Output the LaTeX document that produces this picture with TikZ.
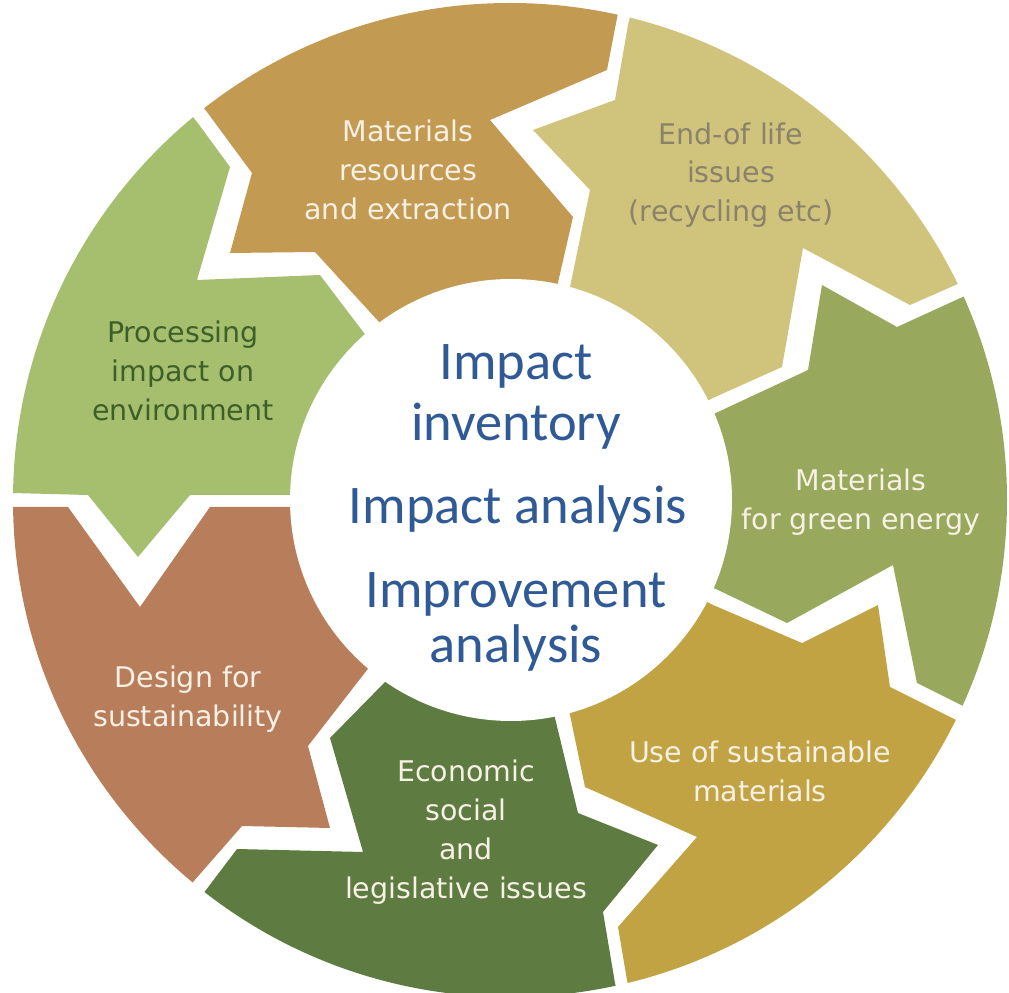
\documentclass[tikz,border=0pt]{standalone}
\usepackage{fontspec}
\setmainfont{DejaVu Sans}
\newfontfamily\hubfont{Carlito}
\usetikzlibrary{calc}

% segment fills
\definecolor{segBrown}{HTML}{C29A52}
\definecolor{segKhaki}{HTML}{D0C47C}
\definecolor{segOlive}{HTML}{98A85C}
\definecolor{segMustard}{HTML}{C1A344}
\definecolor{segForest}{HTML}{5E7C42}
\definecolor{segClay}{HTML}{B87D5B}
\definecolor{segLeaf}{HTML}{A5BF6F}
% text colours
\definecolor{hubBlue}{HTML}{2F5A95}
\definecolor{txtCream}{HTML}{F7F0E4}
\definecolor{txtGrey}{HTML}{8A826A}
\definecolor{txtDark}{HTML}{3E5F28}

\begin{document}
\begin{tikzpicture}[x=0.02cm,y=-0.02cm,
  lbl/.style={align=center, inner sep=0pt, text=txtCream,
    font=\fontsize{16.2}{22.1}\selectfont},
  hub/.style={anchor=base, inner sep=0pt, text=hubBlue,
    font=\hubfont\fontsize{31}{33}\selectfont}]
\useasboundingbox (0,0) rectangle (1009,993);
\coordinate (O) at (510,500);

\begin{scope}
  \clip (O) circle [radius=497];
  % materials resources and extraction
  \fill[segBrown] (O) -- (380,323) -- (315,252) -- (230,253) -- (252,173) -- (207,112)
    -- ($(O)!1.3!(207,112)$) -- (285,-474) -- ($(O)!1.3!(617,18)$)
    -- (617,18) -- (607,70) -- (490,120) -- (573,217) -- (557,287) -- cycle;
  % end-of-life issues
  \fill[segKhaki] (O) -- (570,287) -- (590,190) -- (533,130) -- (615,100) -- (628,25)
    -- ($(O)!1.3!(628,25)$) -- (1139,-277) -- ($(O)!1.3!(960,283)$)
    -- (960,283) -- (910,305) -- (803,248) -- (782,367) -- (713,398) -- cycle;
  % materials for green energy
  \fill[segOlive] (O) -- (718,412) -- (808,370) -- (822,285) -- (897,327) -- (967,295)
    -- ($(O)!1.3!(967,295)$) -- (1510,500) -- ($(O)!1.3!(967,708)$)
    -- (967,708) -- (917,683) -- (893,565) -- (787,623) -- (718,590) -- cycle;
  % use of sustainable materials
  \fill[segMustard] (O) -- (713,605) -- (802,643) -- (878,605) -- (890,687) -- (960,722)
    -- ($(O)!1.3!(960,722)$) -- (1139,1277) -- ($(O)!1.3!(627,980)$)
    -- (627,980) -- (618,927) -- (697,837) -- (585,787) -- (570,715) -- cycle;
  % economic, social and legislative issues
  \fill[segForest] (O) -- (555,718) -- (578,813) -- (658,845) -- (603,912) -- (615,983)
    -- ($(O)!1.3!(615,983)$) -- (285,1474) -- ($(O)!1.3!(206,890)$)
    -- (206,890) -- (237,849) -- (363,852) -- (330,738) -- (387,680) -- cycle;
  % design for sustainability
  \fill[segClay] (O) -- (367,670) -- (308,746) -- (330,828) -- (242,826) -- (193,882)
    -- ($(O)!1.3!(193,882)$) -- (-389,938) -- ($(O)!1.3!(12,507)$)
    -- (12,507) -- (68,507) -- (140,607) -- (210,507) -- (290,507) -- cycle;
  % processing impact on environment
  \fill[segLeaf] (O) -- (290,495) -- (190,495) -- (138,557) -- (88,495) -- (12,493)
    -- ($(O)!1.3!(12,493)$) -- (-389,62) -- ($(O)!1.3!(197,122)$)
    -- (197,122) -- (230,167) -- (197,280) -- (320,275) -- (367,337) -- cycle;
\end{scope}

% central hub
\fill[white] (511,500) circle [radius=221];

% segment labels
\node[lbl] (t1) at (408,170) {Materials\\resources\\and extraction};
\node[lbl, text=txtGrey] (t2) at (731,175) {End-of life\\issues\\(recycling etc)};
\node[lbl] (t3) at (861,502) {Materials\\for green energy};
\node[lbl] (t4) at (760,771) {Use of sustainable\\materials};
\node[lbl] (t5) at (466,832) {Economic\\social\\and\\legislative issues};
\node[lbl] (t6) at (188,699) {Design for\\sustainability};
\node[lbl, text=txtDark] (t7) at (183,371) {Processing\\impact on\\environment};

% hub text
\node[hub] (h1) at (516,380) {Impact};
\node[hub] (h2) at (516,441) {inventory};
\node[hub] (h3) at (518,524) {Impact analysis};
\node[hub] (h4) at (516,608) {Improvement};
\node[hub] (h5) at (516,663) {analysis};
\end{tikzpicture}
\end{document}
